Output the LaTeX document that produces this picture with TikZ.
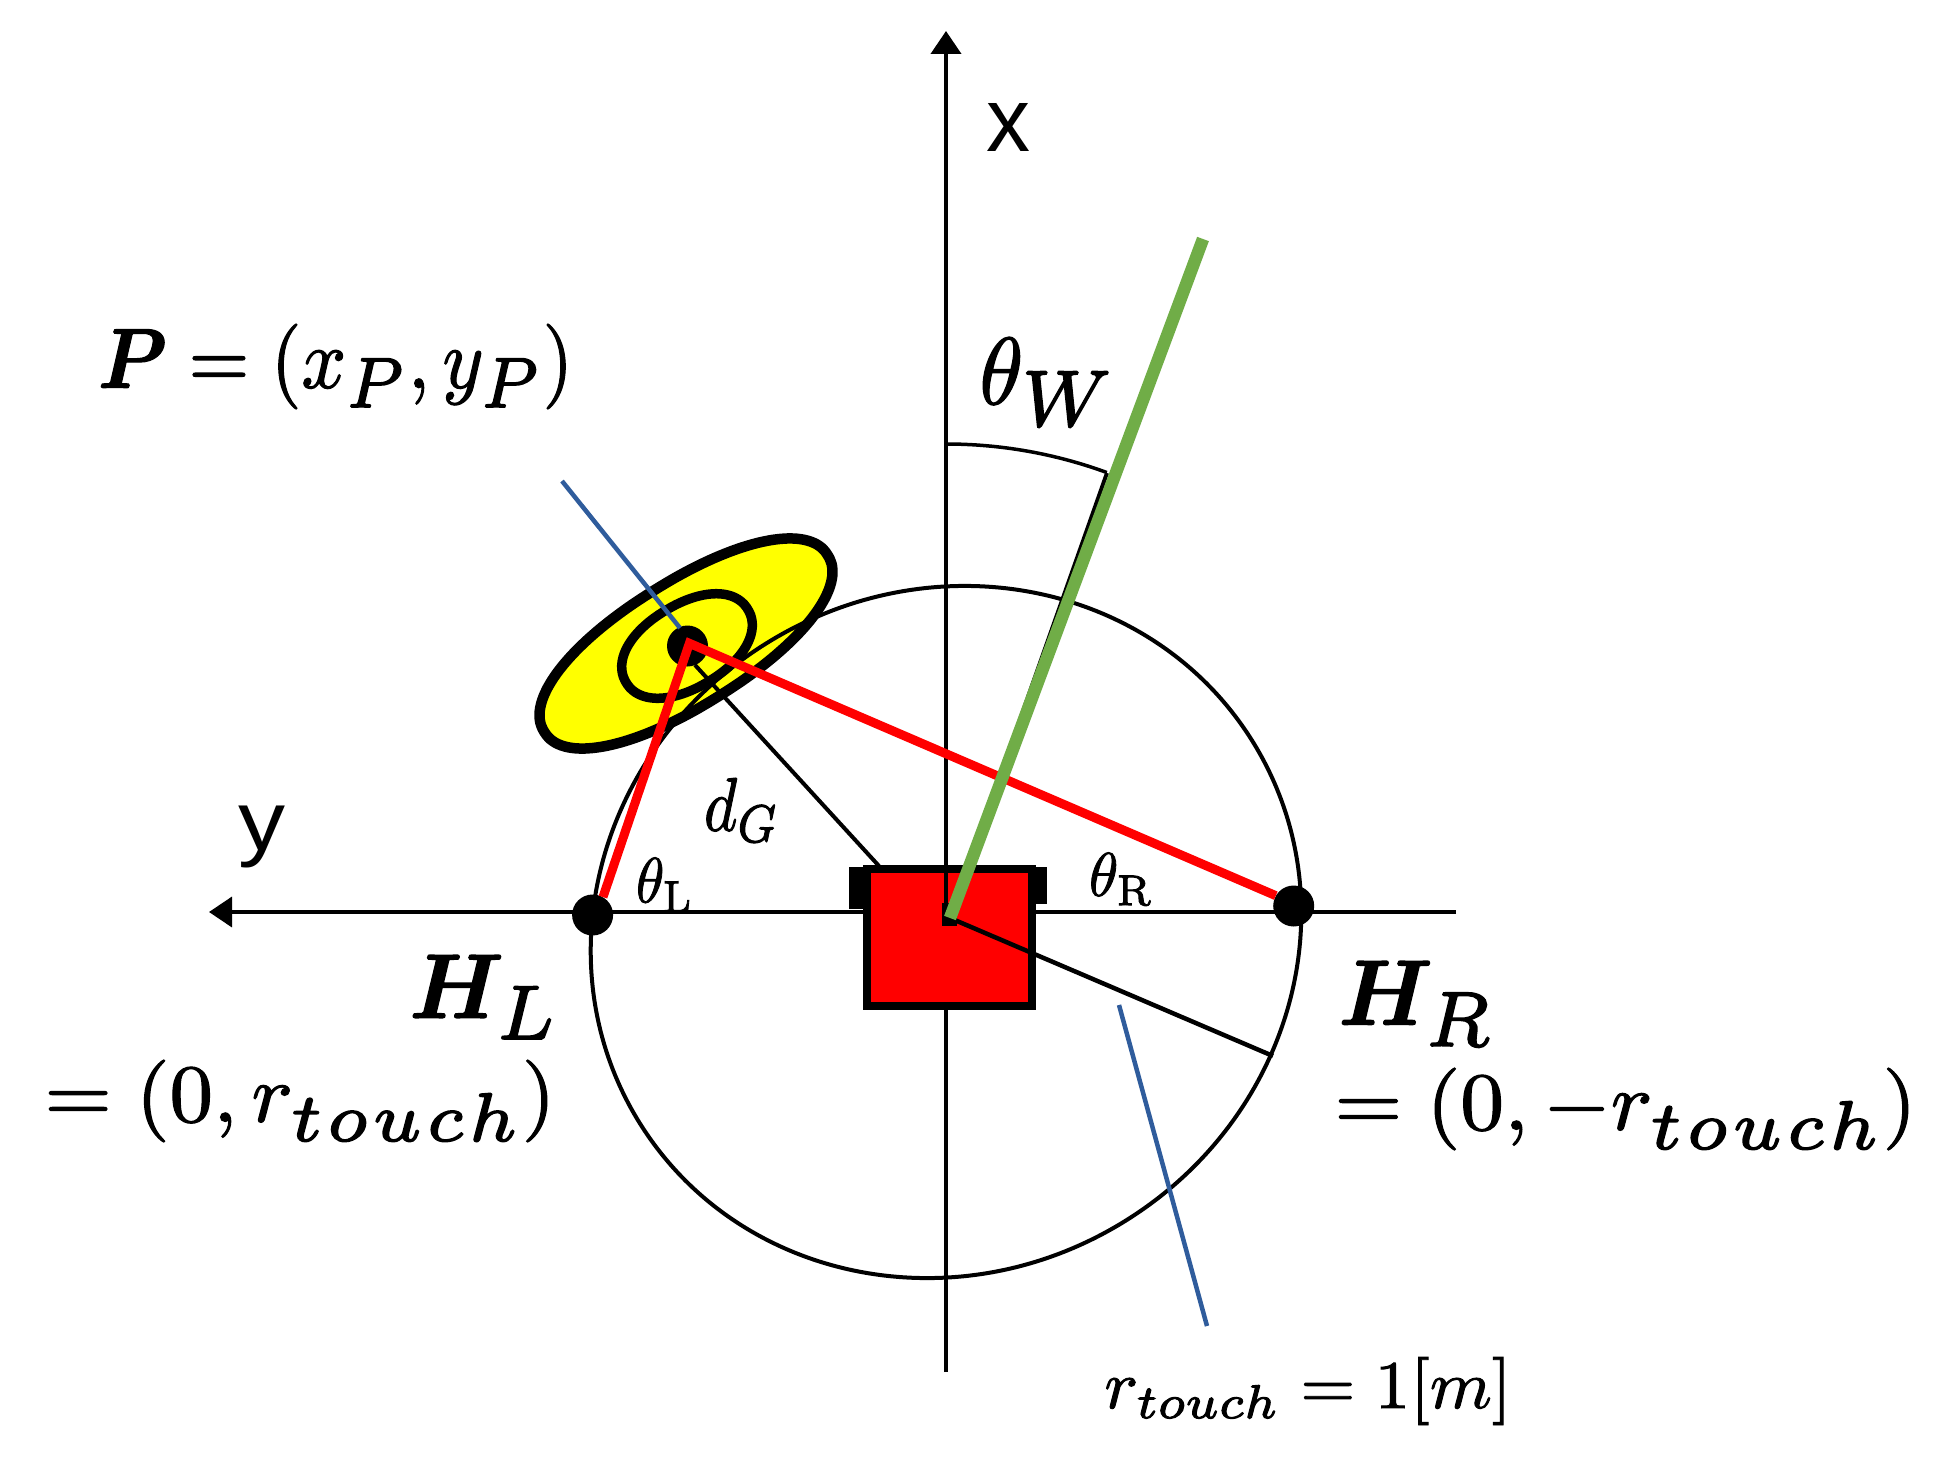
\documentclass[tikz,border=0pt]{standalone}
\usepackage{fontspec}
\usepackage{amsmath}
\usepackage{bm}
\usepackage{graphicx}
\newfontfamily\axisfont{Liberation Sans}
\usetikzlibrary{arrows.meta}
\definecolor{redline}{HTML}{FF0000}
\definecolor{sunyellow}{HTML}{FFFF00}
\definecolor{greenbar}{HTML}{70AD47}
\definecolor{blueline}{HTML}{2F5C9C}
\newcommand{\heavy}[1]{\special{pdf:code 2 Tr 0.14 w}#1\special{pdf:code 0 Tr}}
\newcommand{\fitlabel}[3]{\resizebox*{#1pt}{#2pt}{\heavy{#3}}}
\newcommand{\plainlabel}[3]{\resizebox*{#1pt}{#2pt}{#3}}
\newcommand{\subbig}[1]{\scalebox{1.2}{$\scriptstyle #1$}}
\newcommand{\blunt}[3]{plot[domain=2.5:362.5,samples=73,smooth cycle] ({#1*(cos(\x)>0?1:-1)*abs(cos(\x))^#3},{#2*(sin(\x)>0?1:-1)*abs(sin(\x))^#3})}
\tikzset{
  thinblack/.style={draw=black,line width=4pt},
  axisline/.style={draw=black,-{Triangle[length=23pt,width=30pt]}},
  redbar/.style={draw=redline,line width=9pt},
  bluebar/.style={draw=blueline,line width=4.5pt},
  dotnode/.style={circle,fill=black,draw=none,minimum size=41pt,inner sep=0pt},
  labelnode/.style={inner sep=0pt,outer sep=0pt,anchor=center},
}
\begin{document}
\begin{tikzpicture}[x=1pt,y=-1pt]
\useasboundingbox[fill=white] (0,0) rectangle (1951,1464);
% free ends
\coordinate (xbottom) at (946,1372);
\coordinate (xtip) at (946,31);
\coordinate (yright) at (1456,912);
\coordinate (ytip) at (209,912);
\coordinate (origin) at (950,918);
\coordinate (boxtop) at (946,869);
\coordinate (squaretop) at (946,905);
\coordinate (bluetop) at (562,481);
\coordinate (blueend) at (680,628);
\coordinate (bluelow) at (1119,1005);
\coordinate (bluelowend) at (1207,1326);
\coordinate (greentop) at (1203,239);
\coordinate (rtouchend) at (1273,1056);
\coordinate (dgstart) at (695,665);
\coordinate (dgend) at (879,866);
\coordinate (apex) at (689.4,643.3);
\coordinate (arcstart) at (946,444);
\coordinate (arcend) at (1107,473);
% axes
\draw[axisline,line width=4pt] (xbottom) -- (xtip);
\draw[axisline,line width=3.5pt] (yright) -- (ytip);
% yellow gaze ellipses
\draw[fill=sunyellow,draw=black,line width=10.5pt,shift={(686,643.5)},rotate=32] \blunt{167}{62}{0.93};
\draw[draw=black,line width=9.5pt,shift={(687,646)},rotate=31] \blunt{71}{41.5}{0.93};
% touch circle
\draw[thinblack,shift={(946,932)},rotate=32] (0,0) ellipse [x radius=361pt,y radius=340pt];
% robot
\fill[black] (849,867) rectangle (900,909);
\fill[black] (1000,867) rectangle (1047,904);
\draw[fill=redline,draw=black,line width=8pt] (867,869) rectangle (1032,1006);
\draw[thinblack] (boxtop) -- (squaretop);
\fill[black] (942,903) rectangle (957,926);
% lines
\draw[thinblack] (dgstart) -- (dgend);
\draw[thinblack,line width=4.5pt] (origin) -- (rtouchend);
\node[dotnode] (centerdot) at (687.5,646) {};
\node[dotnode] (handL) at (592.6,915) {};
\node[dotnode] (handR) at (1293.7,906) {};
\draw[redbar] (handL.60) -- (apex) -- (handR.150);
\draw[bluebar] (bluetop) -- (blueend);
\draw[bluebar] (bluelow) -- (bluelowend);
\draw[thinblack,line width=3.5pt] (arcstart) arc [start angle=90,end angle=69.9,radius=468pt];
\draw[thinblack] (origin) -- (arcend);
\draw[draw=greenbar,line width=12.5pt] (origin) -- (greentop);
% labels
\node[labelnode] (labx) at (1008,127) {\plainlabel{44}{48}{\axisfont x}};
\node[labelnode] (laby) at (262,837) {\plainlabel{47}{62}{\axisfont y}};
\node[labelnode] (labP) at (335.5,366.5) {\fitlabel{475}{85}{$\bm{P}=(x_{\subbig{P}},y_{\subbig{P}})$}};
\node[labelnode] (labW) at (1048,382) {\fitlabel{137}{88}{$\theta_{\subbig{W}}$}};
\node[labelnode] (labdG) at (742,810) {\fitlabel{76}{64}{$d_G$}};
\node[labelnode] (labtL) at (665,885) {\fitlabel{58}{54}{$\theta_{\mathrm{L}}$}};
\node[labelnode] (labtR) at (1121.5,879.5) {\fitlabel{65}{53}{$\theta_{\mathrm{R}}$}};
\node[labelnode] (labHL) at (484.5,997) {\fitlabel{150}{84}{$\bm{H}_{\subbig{L}}$}};
\node[labelnode] (labeqL) at (300,1101) {\fitlabel{511}{82}{$=(0,r_{\subbig{t\mspace{1mu}o\mspace{1mu}u\mspace{1mu}c\mspace{1mu}h}})$}};
\node[labelnode] (labHR) at (1416.5,1003.5) {\fitlabel{156}{85}{$\bm{H}_{\subbig{R}}$}};
\node[labelnode] (labeqR) at (1625.5,1109) {\fitlabel{582}{82}{$=(0,-r_{\subbig{t\mspace{1mu}o\mspace{1mu}u\mspace{1mu}c\mspace{1mu}h}})$}};
\node[labelnode] (labr) at (1308,1391) {\fitlabel{407}{68}{$r_{touch}=1[m]$}};
\end{tikzpicture}
\end{document}
